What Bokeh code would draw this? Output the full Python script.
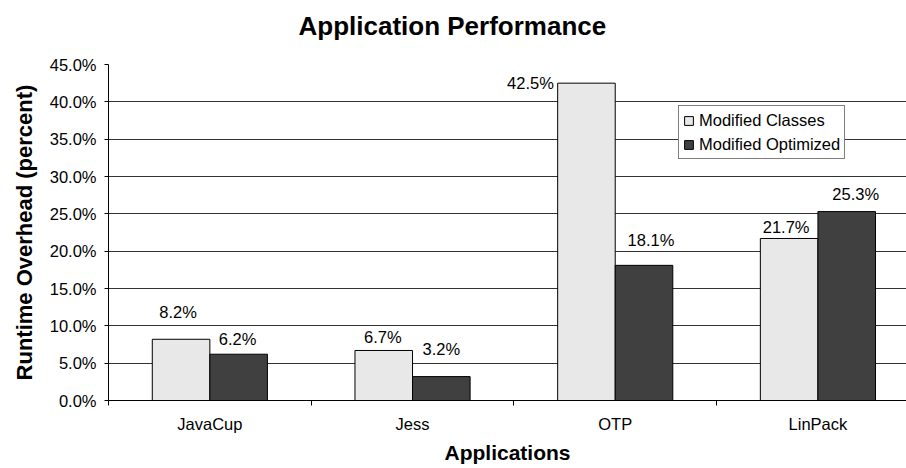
import numpy as np
from bokeh.plotting import figure
from bokeh.models import (ColumnDataSource, FixedTicker, PrintfTickFormatter,
                          Legend, LegendItem, Range1d, Title)
from bokeh.core.properties import value
from bokeh.embed import file_html
from bokeh.resources import INLINE

# ---- data ----
applications = ["JavaCup", "Jess", "OTP", "LinPack"]
modified_classes = [8.2, 6.7, 42.5, 21.7]
modified_optimized = [6.2, 3.2, 18.1, 25.3]
y_ticks = [0, 5, 10, 15, 20, 25, 30, 35, 40, 45]
series_names = ["Modified Classes", "Modified Optimized"]
chart_title = "Application Performance"

# ---- styling ----
FONT = "Liberation Sans"
LIGHT = "#E8E8E8"
DARK = "#404040"
BAR_W = 0.284
FS = "16.5px"
# label offsets in screen pixels (Excel-style nudges)
mc_dx = [-3, -1, -56, -3]
mc_dy = [-27, -13, 0, -11]
mo_dx = [-1, 0, 7, 9]
mo_dy = [-15, -28, -25, -18]

p = figure(width=906, height=468, output_backend="svg", toolbar_location=None,
           x_range=Range1d(0, 3.937), y_range=Range1d(0, 45),
           min_border_left=108, min_border_right=0,
           min_border_top=64, min_border_bottom=68)
p.outline_line_color = None
p.background_fill_color = "white"
p.border_fill_color = "white"
p.title = None

# spacer between frame and title (closest to the frame)
spacer = Title(text=" ", text_font_size="1px", standoff=21)
p.add_layout(spacer, "above")
main_title = Title(text=chart_title, align="left", offset=190, standoff=0,
                   text_font=FONT, text_font_size="26px", text_font_style="bold",
                   text_color="black")
p.add_layout(main_title, "above")

centers = np.arange(len(applications)) + 0.5

src_mc = ColumnDataSource(dict(
    x=centers - BAR_W / 2, top=modified_classes,
    label=[f"{v:.1f}%" for v in modified_classes], dx=mc_dx, dy=mc_dy))
src_mo = ColumnDataSource(dict(
    x=centers + BAR_W / 2, top=modified_optimized,
    label=[f"{v:.1f}%" for v in modified_optimized], dx=mo_dx, dy=mo_dy))

r_mc = p.vbar(x="x", top="top", width=BAR_W, source=src_mc,
              fill_color=LIGHT, line_color="black", line_width=1)
r_mo = p.vbar(x="x", top="top", width=BAR_W, source=src_mo,
              fill_color=DARK, line_color="black", line_width=1)

for src in (src_mc, src_mo):
    p.text(x="x", y="top", text="label", source=src, x_offset="dx", y_offset="dy",
           text_align="center", text_baseline="middle",
           text_font=value(FONT), text_font_size=FS, text_color="black")

# grid
p.xgrid.visible = False
p.ygrid.ticker = FixedTicker(ticks=y_ticks)
p.ygrid.grid_line_color = "#333333"
p.ygrid.grid_line_width = 1

# y axis
ya = p.yaxis[0]
ya.ticker = FixedTicker(ticks=y_ticks, minor_ticks=[])
ya.formatter = PrintfTickFormatter(format="%.1f%%")
ya.major_tick_out = 4
ya.major_tick_in = 0
ya.minor_tick_out = 0
ya.minor_tick_in = 0
ya.major_label_standoff = 8
ya.major_label_text_font = FONT
ya.major_label_text_font_size = FS
ya.major_label_text_color = "black"
ya.axis_line_color = "black"
ya.major_tick_line_color = "black"
ya.axis_label = "Runtime Overhead (percent)"
ya.axis_label_text_font = FONT
ya.axis_label_text_font_size = "22px"
ya.axis_label_text_font_style = "bold"
ya.axis_label_text_color = "black"
ya.axis_label_standoff = 10

# x axis
xa = p.xaxis[0]
xa.ticker = FixedTicker(ticks=list(centers),
                        minor_ticks=list(range(len(applications) + 1)))
xa.major_label_overrides = {float(c): name for c, name in zip(centers, applications)}
xa.major_tick_out = 0
xa.major_tick_in = 0
xa.minor_tick_out = 5
xa.minor_tick_in = 0
xa.minor_tick_line_color = "black"
xa.major_label_standoff = 9
xa.major_label_text_font = FONT
xa.major_label_text_font_size = FS
xa.major_label_text_color = "black"
xa.axis_line_color = "black"
xa.axis_label = "Applications"
xa.axis_label_text_font = FONT
xa.axis_label_text_font_size = "21px"
xa.axis_label_text_font_style = "bold"
xa.axis_label_text_color = "black"
xa.axis_label_standoff = 5

legend = Legend(items=[LegendItem(label=series_names[0], renderers=[r_mc]),
                       LegendItem(label=series_names[1], renderers=[r_mo])],
                location=(570, 241))
legend.border_line_color = "black"
legend.border_line_width = 1
legend.background_fill_color = "white"
legend.background_fill_alpha = 1
legend.padding = 4
legend.spacing = 4
legend.margin = 0
legend.glyph_width = 11
legend.glyph_height = 11
legend.label_standoff = 5
legend.label_height = 20
legend.label_text_font = FONT
legend.label_text_font_size = FS
legend.label_text_color = "black"
p.add_layout(legend, "center")

open("out.html", "w").write(file_html(p, INLINE))
